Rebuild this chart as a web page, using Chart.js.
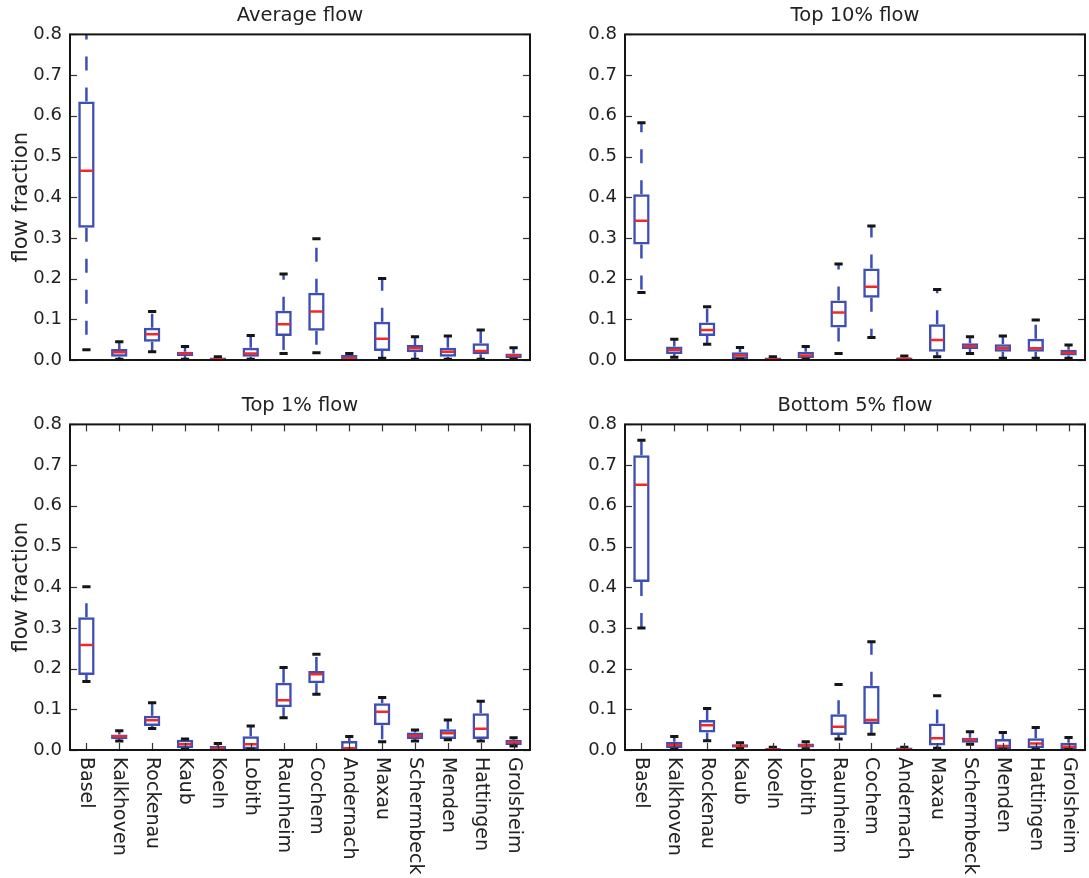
<!DOCTYPE html>
<html>
<head>
<meta charset="utf-8">
<script src="https://cdn.jsdelivr.net/npm/chart.js@4.4.1/dist/chart.umd.min.js"></script>
<style>
  body { margin: 0; background: #fff; width: 1089px; height: 878px; position: relative; overflow: hidden; }
  canvas { position: absolute; }
</style>
</head>
<body>
<canvas id="cAvg" width="545" height="390" style="left:0;top:0"></canvas>
<canvas id="cTop10" width="544" height="390" style="left:545px;top:0"></canvas>
<canvas id="cTop1" width="545" height="488" style="left:0;top:390px"></canvas>
<canvas id="cBot5" width="544" height="488" style="left:545px;top:390px"></canvas>
<script>
// Estaciones (eje x)
const stations = ['Basel', 'Kalkhoven', 'Rockenau', 'Kaub', 'Koeln', 'Lobith', 'Raunheim',
  'Cochem', 'Andernach', 'Maxau', 'Schermbeck', 'Menden', 'Hattingen', 'Grolsheim'];
const yTicks = [0, 0.1, 0.2, 0.3, 0.4, 0.5, 0.6, 0.7, 0.8];

// Average flow: bigote inf, Q1, mediana, Q3, bigote sup
const avgLo  = [0.025, 0.002, 0.020, 0.002, 0.000, 0.002, 0.016, 0.018, 0.000, 0.004, 0.002, 0.002, 0.002, 0.002];
const avgQ1  = [0.325, 0.008, 0.045, 0.010, 0.000, 0.008, 0.059, 0.072, 0.000, 0.022, 0.019, 0.008, 0.014, 0.004];
const avgMed = [0.465, 0.019, 0.063, 0.016, 0.002, 0.016, 0.088, 0.119, 0.004, 0.052, 0.029, 0.020, 0.022, 0.011];
const avgQ3  = [0.635, 0.027, 0.079, 0.020, 0.006, 0.030, 0.121, 0.165, 0.012, 0.094, 0.037, 0.030, 0.041, 0.016];
const avgHi  = [0.880, 0.045, 0.119, 0.033, 0.008, 0.060, 0.211, 0.298, 0.016, 0.200, 0.057, 0.059, 0.074, 0.030];

// Top 10% flow
const t10Lo  = [0.166, 0.007, 0.039, 0.002, 0.000, 0.002, 0.016, 0.055, 0.000, 0.008, 0.016, 0.004, 0.004, 0.004];
const t10Q1  = [0.284, 0.015, 0.059, 0.002, 0.000, 0.004, 0.080, 0.153, 0.000, 0.020, 0.027, 0.020, 0.020, 0.011];
const t10Med = [0.342, 0.025, 0.074, 0.011, 0.002, 0.011, 0.117, 0.180, 0.003, 0.049, 0.034, 0.029, 0.029, 0.018];
const t10Q3  = [0.407, 0.033, 0.092, 0.019, 0.006, 0.020, 0.146, 0.225, 0.006, 0.088, 0.041, 0.039, 0.052, 0.025];
const t10Hi  = [0.583, 0.051, 0.131, 0.031, 0.008, 0.033, 0.236, 0.329, 0.010, 0.173, 0.057, 0.059, 0.098, 0.037];

// Top 1% flow
const t1Lo  = [0.168, 0.022, 0.053, 0.002, 0.000, 0.002, 0.079, 0.137, 0.000, 0.020, 0.022, 0.025, 0.022, 0.010];
const t1Q1  = [0.184, 0.027, 0.059, 0.004, 0.000, 0.002, 0.105, 0.164, 0.000, 0.061, 0.027, 0.027, 0.027, 0.012];
const t1Med = [0.258, 0.034, 0.073, 0.014, 0.004, 0.014, 0.122, 0.186, 0.004, 0.094, 0.035, 0.041, 0.052, 0.019];
const t1Q3  = [0.326, 0.038, 0.084, 0.025, 0.010, 0.034, 0.165, 0.194, 0.022, 0.115, 0.043, 0.051, 0.090, 0.025];
const t1Hi  = [0.401, 0.047, 0.116, 0.027, 0.016, 0.059, 0.203, 0.235, 0.033, 0.129, 0.049, 0.074, 0.120, 0.030];

// Bottom 5% flow
const b5Lo  = [0.300, 0.002, 0.023, 0.004, 0.000, 0.003, 0.027, 0.039, 0.000, 0.004, 0.014, 0.002, 0.002, 0.002];
const b5Q1  = [0.413, 0.004, 0.043, 0.006, 0.000, 0.006, 0.037, 0.064, 0.000, 0.011, 0.018, 0.002, 0.004, 0.002];
const b5Med = [0.652, 0.012, 0.061, 0.010, 0.002, 0.011, 0.057, 0.074, 0.002, 0.029, 0.025, 0.010, 0.016, 0.008];
const b5Q3  = [0.724, 0.020, 0.074, 0.014, 0.004, 0.016, 0.088, 0.158, 0.006, 0.065, 0.030, 0.027, 0.029, 0.018];
const b5Hi  = [0.761, 0.033, 0.102, 0.018, 0.007, 0.020, 0.161, 0.266, 0.007, 0.133, 0.045, 0.043, 0.055, 0.031];

const AZUL = '#3d4fb4', ROJO = '#f02a2a', NEGRO = '#151515', TEXTO = '#222';
const FUENTE = '"DejaVu Sans", sans-serif';

// Bigotes, topes y mediana sobre las cajas (barras flotantes); marco y ticks hacia adentro.
function pluginCaja(lo, med, hi, conEtiquetas) {
  return {
    id: 'caja',
    afterDatasetsDraw(chart) {
      const { ctx, chartArea: a, scales: { x, y } } = chart;
      const barras = chart.getDatasetMeta(0).data;
      const q1 = chart.data.datasets[0].data.map(d => d[0]);
      const q3 = chart.data.datasets[0].data.map(d => d[1]);
      const linea = (x1, y1, x2, y2) => { ctx.beginPath(); ctx.moveTo(x1, y1); ctx.lineTo(x2, y2); ctx.stroke(); };
      ctx.save();
      ctx.beginPath(); ctx.rect(a.left, a.top, a.right - a.left, a.bottom - a.top); ctx.clip();
      lo.forEach((v, i) => {
        const cx = x.getPixelForValue(i), w = barras[i].width;
        ctx.lineWidth = 2.5;
        ctx.strokeStyle = AZUL; ctx.setLineDash([14, 17]);
        linea(cx, y.getPixelForValue(q1[i]), cx, y.getPixelForValue(v));
        linea(cx, y.getPixelForValue(q3[i]), cx, y.getPixelForValue(hi[i]));
        ctx.setLineDash([]);
        ctx.strokeStyle = NEGRO; ctx.lineWidth = 3;
        linea(cx - w / 4, y.getPixelForValue(v), cx + w / 4, y.getPixelForValue(v));
        linea(cx - w / 4, y.getPixelForValue(hi[i]), cx + w / 4, y.getPixelForValue(hi[i]));
        ctx.strokeStyle = ROJO; ctx.lineWidth = 2.5;
        linea(cx - w / 2 + 1.5, y.getPixelForValue(med[i]), cx + w / 2 - 1.5, y.getPixelForValue(med[i]));
      });
      ctx.restore();
    },
    afterDraw(chart) {
      const { ctx, chartArea: a, scales: { x, y } } = chart;
      const linea = (x1, y1, x2, y2) => { ctx.beginPath(); ctx.moveTo(x1, y1); ctx.lineTo(x2, y2); ctx.stroke(); };
      ctx.save();
      ctx.strokeStyle = '#333'; ctx.lineWidth = 1.2;
      yTicks.forEach(t => {
        const py = Math.round(y.getPixelForValue(t)) + 0.5;
        linea(a.left, py, a.left + 7, py);
        linea(a.right - 7, py, a.right, py);
      });
      if (conEtiquetas) {
        stations.forEach((s, i) => {
          const px = Math.round(x.getPixelForValue(i)) + 0.5;
          linea(px, a.bottom, px, a.bottom - 7);
          linea(px, a.top, px, a.top + 7);
        });
      }
      ctx.strokeStyle = NEGRO; ctx.lineWidth = 2;
      ctx.strokeRect(a.left, a.top, a.right - a.left, a.bottom - a.top);
      if (conEtiquetas) {
        ctx.fillStyle = TEXTO; ctx.font = '19px ' + FUENTE;
        ctx.textAlign = 'left'; ctx.textBaseline = 'middle';
        stations.forEach((s, i) => {
          ctx.save();
          ctx.translate(x.getPixelForValue(i), a.bottom + 7);
          ctx.rotate(Math.PI / 2);
          ctx.fillText(s, 0, 0);
          ctx.restore();
        });
      }
      ctx.restore();
    }
  };
}

function nuevoBoxplot(id, titulo, q1, med, q3, lo, hi, opt) {
  return new Chart(document.getElementById(id), {
    type: 'bar',
    data: {
      labels: stations,
      datasets: [{
        data: q1.map((v, i) => [v, q3[i]]),
        backgroundColor: 'rgba(255,255,255,0)', borderColor: AZUL, borderWidth: 2.5,
        borderSkipped: false, barPercentage: 0.5, categoryPercentage: 1.0,
      }],
    },
    options: {
      responsive: false, animation: false,
      layout: { padding: { right: opt.padRight, left: 0, top: 0, bottom: 0 } },
      plugins: {
        legend: { display: false }, tooltip: { enabled: false },
        title: { display: true, text: titulo, fullSize: false, color: TEXTO,
          font: { family: FUENTE, size: 19.5, weight: 'normal' }, padding: { top: 4, bottom: 7 } },
      },
      scales: {
        x: { grid: { display: false, drawTicks: false }, border: { display: false },
             ticks: { display: false }, afterFit: s => { s.height = opt.xHeight; } },
        y: { min: 0, max: 0.8, grid: { display: false, drawTicks: false }, border: { display: false },
             ticks: { stepSize: 0.1, padding: 8, color: TEXTO, font: { family: FUENTE, size: 18 },
                      callback: v => v.toFixed(1) },
             title: { display: opt.yTitle, text: 'flow fraction', color: TEXTO,
                      font: { family: FUENTE, size: 21 }, padding: { top: 9, bottom: 0 } },
             afterFit: s => { s.width = opt.yWidth; } },
      },
    },
    plugins: [pluginCaja(lo, med, hi, opt.labels)],
  });
}

nuevoBoxplot('cAvg', 'Average flow', avgQ1, avgMed, avgQ3, avgLo, avgHi,
  { padRight: 15, xHeight: 30, yWidth: 70, yTitle: true, labels: false });
nuevoBoxplot('cTop10', 'Top 10% flow', t10Q1, t10Med, t10Q3, t10Lo, t10Hi,
  { padRight: 4, xHeight: 30, yWidth: 80, yTitle: false, labels: false });
nuevoBoxplot('cTop1', 'Top 1% flow', t1Q1, t1Med, t1Q3, t1Lo, t1Hi,
  { padRight: 15, xHeight: 128, yWidth: 70, yTitle: true, labels: true });
nuevoBoxplot('cBot5', 'Bottom 5% flow', b5Q1, b5Med, b5Q3, b5Lo, b5Hi,
  { padRight: 4, xHeight: 128, yWidth: 80, yTitle: false, labels: true });
</script>
</body>
</html>
